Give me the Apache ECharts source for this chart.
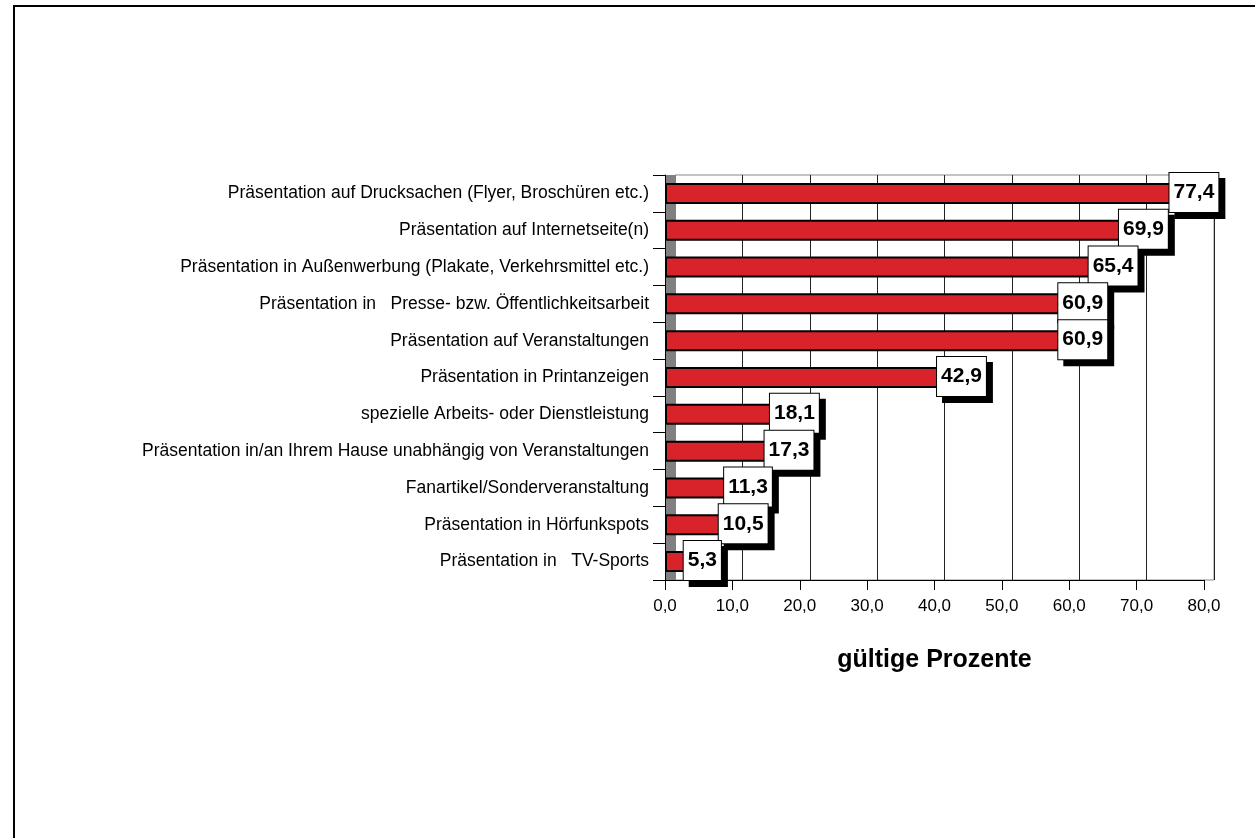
<!DOCTYPE html>
<html><head><meta charset="utf-8">
<script src="https://cdn.jsdelivr.net/npm/echarts@6/dist/echarts.min.js"></script>
<style>html,body{margin:0;padding:0;background:#fff}#c{width:1255px;height:838px}</style>
</head><body><div id="c"></div>
<script>
const categories = [
  "Präsentation auf Drucksachen (Flyer, Broschüren etc.)",
  "Präsentation auf Internetseite(n)",
  "Präsentation in Außenwerbung (Plakate, Verkehrsmittel etc.)",
  "Präsentation in   Presse- bzw. Öffentlichkeitsarbeit",
  "Präsentation auf Veranstaltungen",
  "Präsentation in Printanzeigen",
  "spezielle Arbeits- oder Dienstleistung",
  "Präsentation in/an Ihrem Hause unabhängig von Veranstaltungen",
  "Fanartikel/Sonderveranstaltung",
  "Präsentation in Hörfunkspots",
  "Präsentation in   TV-Sports"
];
const values = [77.4, 69.9, 65.4, 60.9, 60.9, 42.9, 18.1, 17.3, 11.3, 10.5, 5.3];
const xTicks = {min: 0, max: 80, interval: 10};
const axisTitle = "gültige Prozente";

const FONT = "'Liberation Sans', Arial, sans-serif";
const fmt = v => v.toFixed(1).replace('.', ',');

const chart = echarts.init(document.getElementById('c'), null, {renderer: 'canvas'});
chart.setOption({
  animation: false,
  backgroundColor: '#fff',
  grid: [
    {left: 665, right: 51, top: 175, bottom: 258},
    {left: 675, right: 41, top: 175, bottom: 258, show: true, borderColor: '#888', borderWidth: 1, backgroundColor: 'transparent'}
  ],
  xAxis: [
    {
      gridIndex: 0, type: 'value', min: xTicks.min, max: xTicks.max, interval: xTicks.interval,
      axisLine: {show: true, lineStyle: {color: '#000', width: 1}},
      axisTick: {show: true, length: 10, lineStyle: {color: '#000'}},
      splitLine: {show: false},
      axisLabel: {color: '#000', fontFamily: FONT, fontSize: 17, margin: 18, formatter: fmt},
      name: axisTitle, nameLocation: 'middle', nameGap: 68,
      nameTextStyle: {color: '#000', fontFamily: FONT, fontSize: 25, fontWeight: 'bold'},
      z: 5
    },
    {
      gridIndex: 1, type: 'value', min: xTicks.min, max: xTicks.max, interval: xTicks.interval,
      axisLine: {show: false}, axisTick: {show: false}, axisLabel: {show: false},
      splitLine: {show: true, lineStyle: {color: '#222', width: 1}},
      z: 0
    }
  ],
  yAxis: [
    {
      gridIndex: 0, type: 'category', data: categories, inverse: true,
      axisLine: {show: true, lineStyle: {color: '#000', width: 1}},
      axisTick: {show: true, length: 12, lineStyle: {color: '#000'}},
      axisLabel: {color: '#000', fontFamily: FONT, fontSize: 17.5, margin: 16},
      z: 5
    },
    {
      gridIndex: 1, type: 'category', data: categories, inverse: true,
      axisLine: {show: false}, axisTick: {show: false}, axisLabel: {show: false}
    }
  ],
  series: [{
    type: 'bar', xAxisIndex: 0, yAxisIndex: 0, data: values, barWidth: 21,
    itemStyle: {color: '#d8232a', borderColor: '#000', borderWidth: 2},
    label: {
      show: true, position: 'right', distance: 0, offset: [-17, -1],
      formatter: p => fmt(p.value),
      color: '#000', fontFamily: FONT, fontSize: 21, fontWeight: 'bold',
      backgroundColor: '#fff', borderColor: '#000', borderWidth: 1,
      padding: [9, 4, 9, 4],
      shadowColor: '#000', shadowBlur: 0, shadowOffsetX: 6, shadowOffsetY: 6
    },
    z: 3
  }]
});

// decorative 3D side wall and outer frame, positioned from the library's scales
const x0 = chart.convertToPixel({xAxisIndex: 0}, 0);
const x0b = chart.convertToPixel({xAxisIndex: 1}, 0);
const yTop = chart.convertToPixel({gridIndex: 0}, [0, 0]) ? 175 : 175;
const gridRect = chart.getModel().getComponent('grid', 0).coordinateSystem.getRect();
chart.setOption({
  graphic: [
    {
      type: 'rect', silent: true, z: 1,
      shape: {x: x0 + 1, y: gridRect.y, width: x0b - x0, height: gridRect.height},
      style: {fill: '#808080'}
    },
    {
      type: 'rect', silent: true, z: 100,
      shape: {x: 14, y: 6, width: 1300, height: 900},
      style: {fill: 'none', stroke: '#000', lineWidth: 2}
    }
  ]
});
</script></body></html>
